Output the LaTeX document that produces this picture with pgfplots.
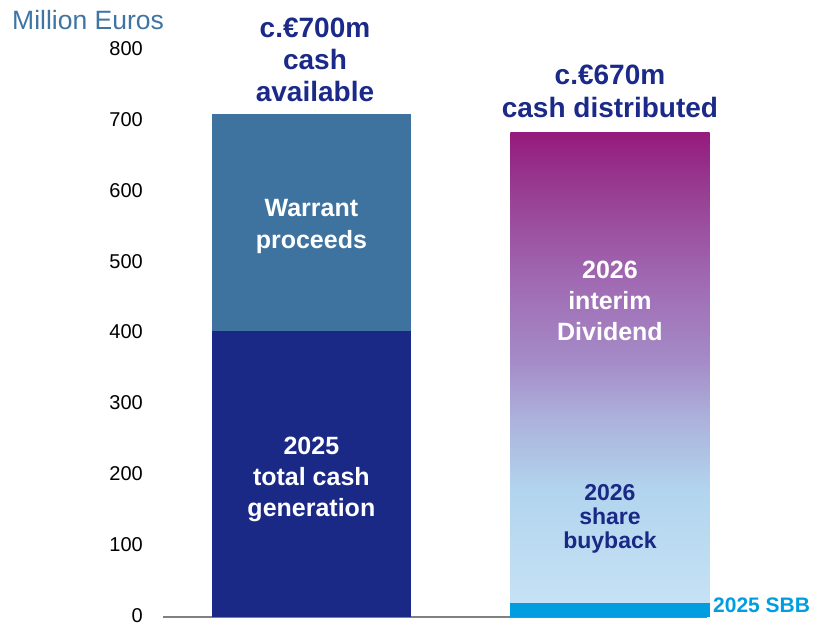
\documentclass[border=0pt]{standalone}
\usepackage{pgfplots}
\pgfplotsset{compat=1.18}
\usepackage{fontspec}
\setmainfont{Liberation Sans}
\definecolor{navy}{RGB}{26,40,134}
\definecolor{steel}{RGB}{62,115,160}
\definecolor{sbb}{RGB}{0,158,224}
\definecolor{titlec}{RGB}{27,42,136}
\definecolor{meur}{RGB}{63,116,163}
\definecolor{axgray}{RGB}{128,128,128}
\definecolor{g0}{RGB}{197,226,245}
\definecolor{g1}{RGB}{178,212,238}
\definecolor{g2}{RGB}{172,178,220}
\definecolor{g3}{RGB}{165,140,200}
\definecolor{g4}{RGB}{160,105,178}
\definecolor{g5}{RGB}{152,65,148}
\definecolor{g6}{RGB}{149,27,125}
\pgfdeclareverticalshading{divgrad}{100bp}{color(0bp)=(g0); color(26.5bp)=(g0); color(38.2bp)=(g1); color(45.4bp)=(g2); color(51.3bp)=(g3); color(59.9bp)=(g4); color(68.4bp)=(g5); color(75bp)=(g6); color(100bp)=(g6)}
\begin{document}
\begin{tikzpicture}
\begin{axis}[
  at={(163pt,9pt)}, anchor=south west,
  scale only axis, width=544pt, height=567pt,
  xmin=-0.497, xmax=1.325, ymin=0, ymax=800,
  ytick={0,100,...,800}, xtick=\empty,
  axis x line*=bottom, axis y line*=left,
  y axis line style={draw=none},
  x axis line style={draw=axgray, line width=1.5pt, -},
  major tick length=0pt,
  tick style={draw=none},
  /pgf/number format/assume math mode=true,
  yticklabel style={font=\fontsize{20}{24}\selectfont, text=black, anchor=east, inner sep=0pt, xshift=-20pt, yshift=1.5pt},
  clip=false,
  bar width=0.667,
]
\addplot[ybar, bar shift=0pt, fill=steel, draw=none] coordinates {(0,710)};
\addplot[ybar, bar shift=0pt, fill=navy, draw=none] coordinates {(0,403)};
\addplot[ybar, bar shift=0pt, shading=divgrad, draw=none] coordinates {(1,683)};
\addplot[ybar, bar shift=0pt, fill=sbb, draw=none] coordinates {(1,20)};

\node[align=center, text=titlec, font=\fontsize{28}{32}\bfseries\selectfont] at (axis cs:0.012,786) {c.€700m\\cash\\available};
\node[align=center, text=titlec, font=\fontsize{28}{33}\bfseries\selectfont] at (axis cs:1,741) {c.€670m\\cash distributed};
\node[align=center, text=white, font=\fontsize{25}{32}\bfseries\selectfont] at (axis cs:0,551) {Warrant\\proceeds};
\node[align=center, text=white, font=\fontsize{25}{31}\bfseries\selectfont] at (axis cs:0,194) {2025\\total cash\\generation};
\node[align=center, text=white, font=\fontsize{25}{31}\bfseries\selectfont] at (axis cs:1,446) {2026\\interim\\Dividend};
\node[align=center, text=navy, font=\fontsize{23}{24}\bfseries\selectfont] at (axis cs:1,138) {2026\\share\\buyback};
\node[anchor=west, inner sep=0pt, text=sbb, font=\fontsize{21}{24}\bfseries\selectfont] at (axis cs:1.345,17) {2025 SBB};
\end{axis}
\node[anchor=west, inner sep=0pt, text=meur, font=\fontsize{26.5}{28}\selectfont] at (12pt,606pt) {Million Euros};
\pgfresetboundingbox
\path[use as bounding box] (0,0) rectangle (815pt,626pt);
\end{tikzpicture}
\end{document}
